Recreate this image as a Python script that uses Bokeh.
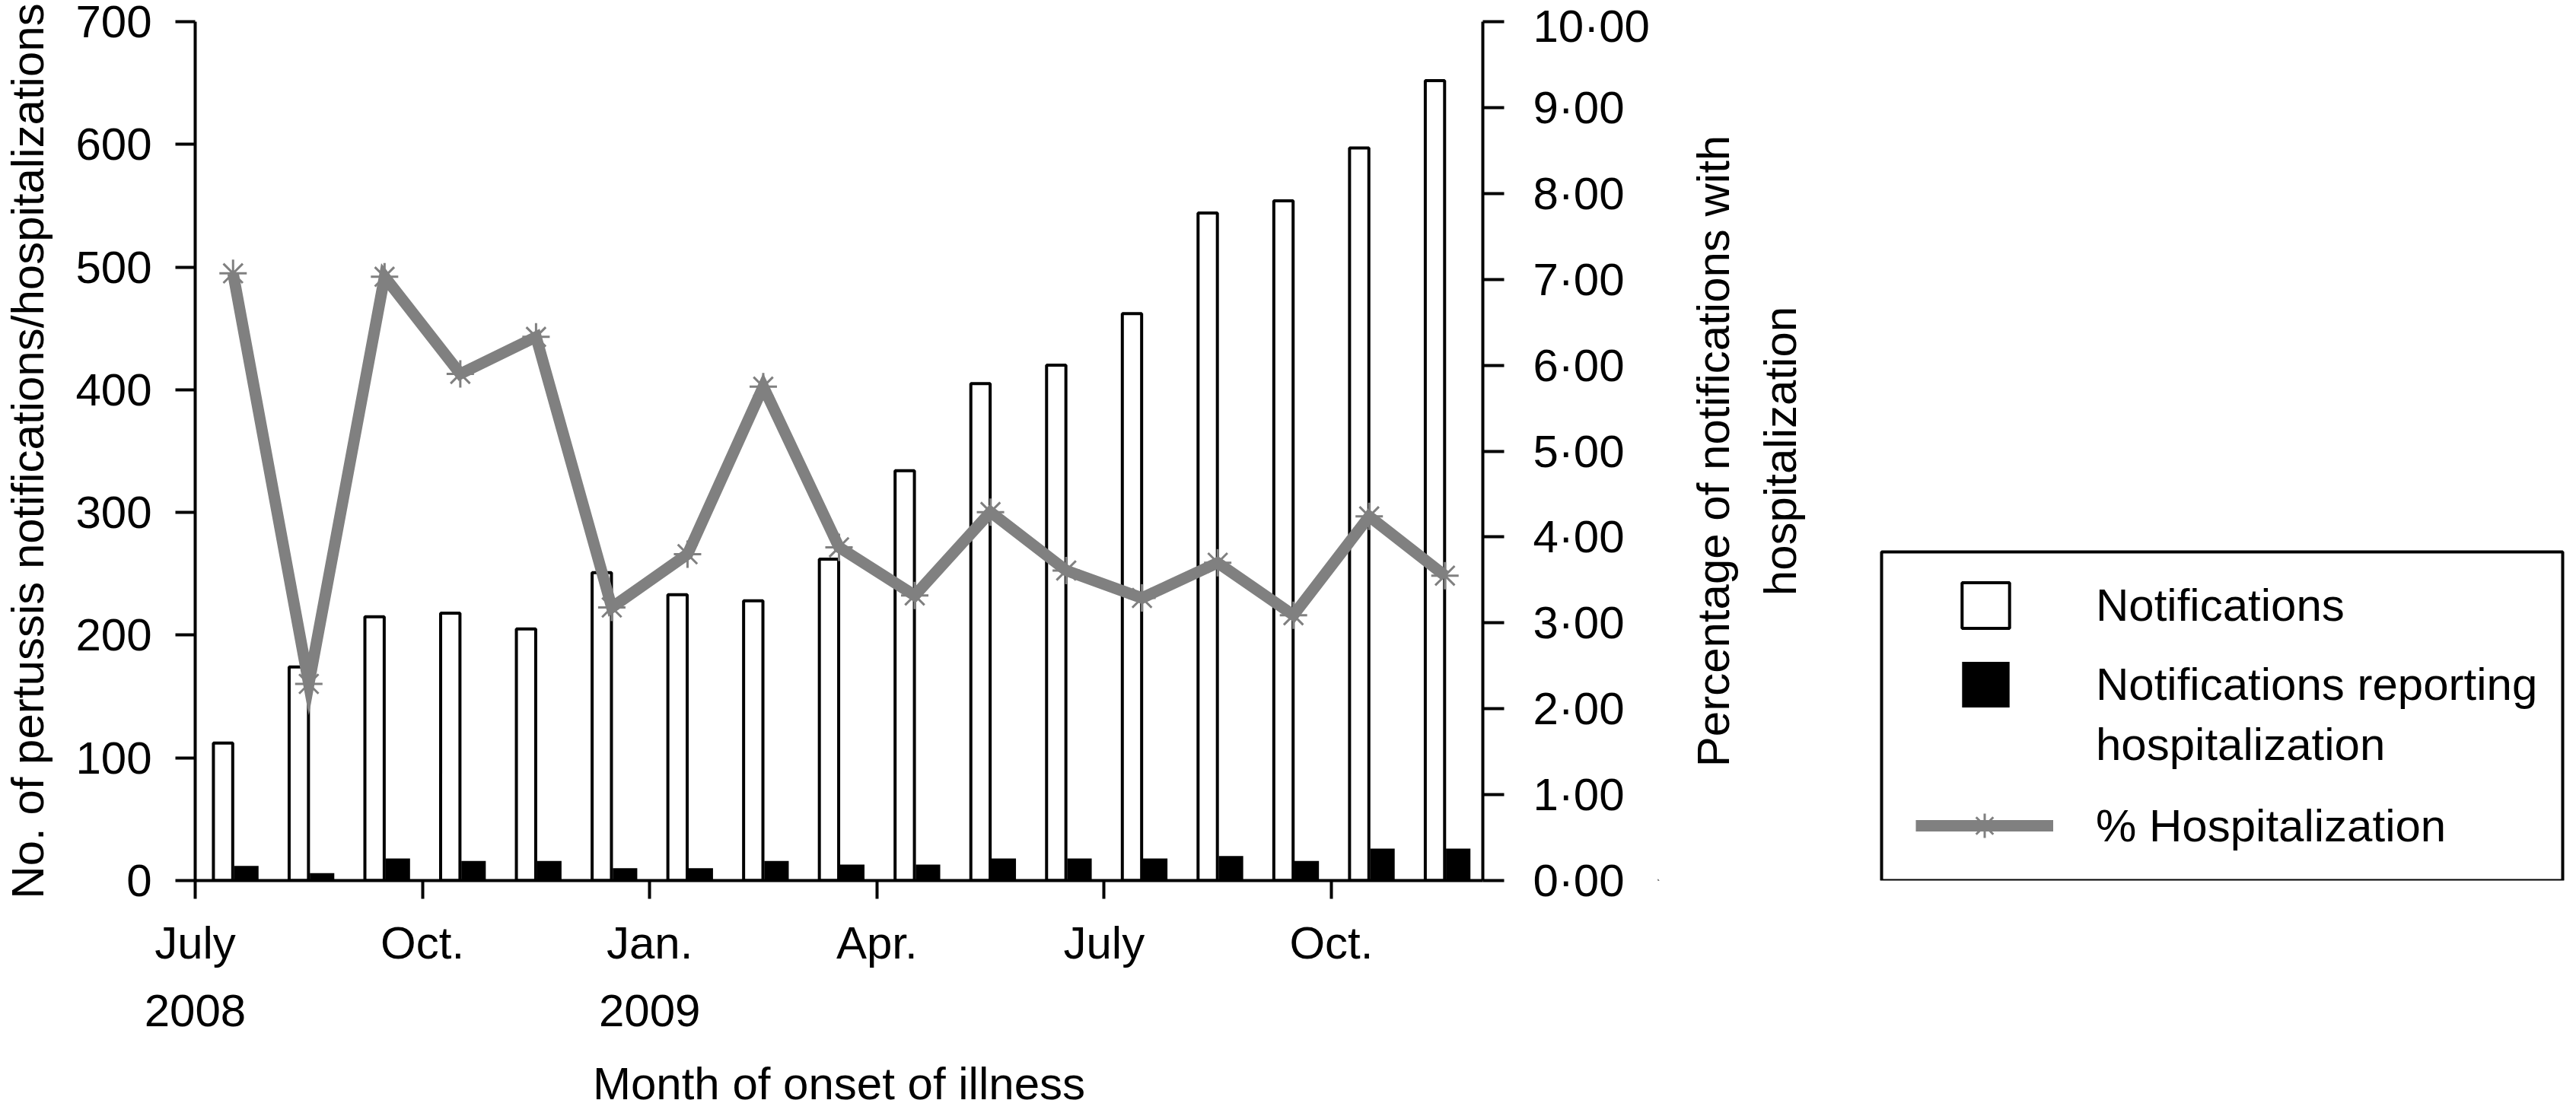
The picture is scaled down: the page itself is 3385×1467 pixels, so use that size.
import numpy as np
from bokeh.plotting import figure
from bokeh.layouts import row
from bokeh.models import (Range1d, LinearAxis, FixedTicker, Legend, LegendItem,
                          BoxAnnotation, ColumnDataSource, Label)
from bokeh.embed import file_html
from bokeh.resources import INLINE

# ---------------- data ----------------
months = ["Jul 2008", "Aug 2008", "Sep 2008", "Oct 2008", "Nov 2008", "Dec 2008",
          "Jan 2009", "Feb 2009", "Mar 2009", "Apr 2009", "May 2009", "Jun 2009",
          "Jul 2009", "Aug 2009", "Sep 2009", "Oct 2009", "Nov 2009"]
notifications = [112, 174, 215, 218, 205, 251, 233, 228, 262, 334, 405, 420,
                 462, 544, 554, 597, 652]
hospitalizations = [12, 6, 18, 16, 16, 10, 10, 16, 13, 13, 18, 18,
                    18, 20, 16, 26, 26]
pct_hospitalization = [7.07, 2.29, 7.03, 5.90, 6.33, 3.18, 3.80, 5.75, 3.88, 3.32,
                       4.29, 3.61, 3.29, 3.70, 3.09, 4.24, 3.55]

x_tick_positions = [0, 3, 6, 9, 12, 15]
x_tick_labels = ["July\n2008", "Oct.", "Jan.\n2009", "Apr.", "July", "Oct."]
count_ticks = [0, 100, 200, 300, 400, 500, 600, 700]
pct_ticks = [0, 1, 2, 3, 4, 5, 6, 7, 8, 9, 10]
pct_tick_labels = ["0·00", "1·00", "2·00", "3·00", "4·00", "5·00",
                   "6·00", "7·00", "8·00", "9·00", "10·00"]

FONT = "Liberation Sans"
GREY = "#808080"

idx = np.arange(len(months))
src = ColumnDataSource(dict(
    month=months,
    x_notif=idx + 0.368,
    x_hosp=idx + 0.675,
    x_mid=idx + 0.5,
    notifications=notifications,
    hospitalizations=hospitalizations,
    pct=pct_hospitalization,
))

# ---------------- main chart ----------------
BORDER_L, FRAME_W, BORDER_R = 254, 1692, 230
BORDER_T, FRAME_H = 28, 1129
TOTAL_H = 1451
BORDER_B = TOTAL_H - BORDER_T - FRAME_H

p = figure(frame_width=FRAME_W, frame_height=FRAME_H,
           x_range=Range1d(0, 17), y_range=Range1d(0, 700),
           output_backend="svg", toolbar_location=None,
           min_border_left=BORDER_L, min_border_top=BORDER_T,
           min_border_right=BORDER_R, min_border_bottom=BORDER_B)
p.extra_y_ranges = {"pct": Range1d(0, 10)}
p.xgrid.visible = False
p.ygrid.visible = False
p.outline_line_color = None


def style_axis(ax, tick_out, standoff):
    ax.axis_line_width = 4
    ax.axis_line_color = "black"
    ax.major_tick_line_width = 4
    ax.major_tick_line_color = "black"
    ax.major_tick_out = tick_out
    ax.major_tick_in = 0
    ax.minor_tick_out = 0
    ax.minor_tick_in = 0
    ax.major_label_text_font = FONT
    ax.major_label_text_font_size = "60px"
    ax.major_label_text_color = "black"
    ax.major_label_standoff = standoff
    ax.axis_label_text_font = FONT
    ax.axis_label_text_font_size = "60px"
    ax.axis_label_text_font_style = "normal"
    ax.axis_label_text_color = "black"


xax = p.xaxis[0]
xax.ticker = FixedTicker(ticks=x_tick_positions)
xax.major_label_overrides = dict(zip(x_tick_positions, x_tick_labels))
xax.axis_label = "Month of onset of illness"
style_axis(xax, 24, 24)
xax.major_label_text_line_height = 1.33
xax.axis_label_standoff = 26

yax = p.yaxis[0]
yax.ticker = FixedTicker(ticks=count_ticks)
yax.axis_label = "No. of pertussis notifications/hospitalizations"
style_axis(yax, 26, 31)
yax.axis_label_standoff = 26

rax = LinearAxis(y_range_name="pct", ticker=FixedTicker(ticks=pct_ticks),
                 major_label_overrides=dict(zip(pct_ticks, pct_tick_labels)))
style_axis(rax, 28, 38)
p.add_layout(rax, "right")

r_notif = p.vbar(x="x_notif", top="notifications", width=0.255, source=src,
                 fill_color="white", line_color="black", line_width=4)
r_hosp = p.vbar(x="x_hosp", top="hospitalizations", width=0.323, source=src,
                fill_color="black", line_color=None)
r_line = p.line(x="x_mid", y="pct", source=src, y_range_name="pct",
                line_color=GREY, line_width=15, line_join="miter")
r_mark = p.scatter(x="x_mid", y="pct", source=src, y_range_name="pct",
                   marker="asterisk", size=36, line_color=GREY, line_width=3)

# ---------------- side panel: right-axis title and legend ----------------
main_w = BORDER_L + FRAME_W + BORDER_R
side_w = 3369 - main_w
q = figure(frame_width=side_w, frame_height=FRAME_H,
           x_range=Range1d(0, 1), y_range=Range1d(0, 1),
           output_backend="svg", toolbar_location=None,
           x_axis_location=None, y_axis_location=None,
           min_border_left=0, min_border_right=0,
           min_border_top=BORDER_T, min_border_bottom=BORDER_B,
           outline_line_color=None)
q.xgrid.visible = False
q.ygrid.visible = False

# vertical title for the right-hand axis (reads bottom-to-top)
q.add_layout(Label(x=117, y=FRAME_H / 2, x_units="screen", y_units="screen",
                   text="Percentage of notifications with\nhospitalization",
                   angle=np.pi / 2, text_align="center", text_baseline="middle",
                   text_font=FONT, text_font_size="60px", text_color="black",
                   text_line_height=1.3))

# legend swatch renderers (their single point lies outside the visible range)
off = ColumnDataSource(dict(x=[-5.0], y=[-5.0]))
k_notif = q.vbar(x="x", top="y", width=0.1, source=off,
                 fill_color="white", line_color="black", line_width=4)
k_hosp = q.vbar(x="x", top="y", width=0.1, source=off,
                fill_color="black", line_color=None)
k_blank = q.scatter(x="x", y="y", source=off, size=1,
                    fill_alpha=0, line_alpha=0)
k_line = q.line(x="x", y="y", source=off, line_color=GREY, line_width=15)
k_mark = q.scatter(x="x", y="y", source=off, marker="asterisk",
                   line_color=GREY, line_width=3)

leg_common = dict(padding=0, margin=0, border_line_color=None,
                  background_fill_alpha=0, label_text_font=FONT,
                  label_text_font_size="60px", label_text_color="black",
                  spacing=0)

q.add_layout(Legend(items=[LegendItem(label="Notifications", renderers=[k_notif])],
                    location=(392, 324), glyph_width=78, glyph_height=75,
                    label_standoff=106, **leg_common))
q.add_layout(Legend(items=[LegendItem(label="Notifications reporting", renderers=[k_hosp])],
                    location=(392, 220), glyph_width=78, glyph_height=75,
                    label_standoff=106, **leg_common))
q.add_layout(Legend(items=[LegendItem(label="hospitalization", renderers=[k_blank])],
                    location=(392, 141), glyph_width=78, glyph_height=75,
                    label_standoff=106, **leg_common))
q.add_layout(Legend(items=[LegendItem(label="% Hospitalization",
                                      renderers=[k_line, k_mark])],
                    location=(339, 32), glyph_width=181, glyph_height=80,
                    label_standoff=56, **leg_common))

q.add_layout(BoxAnnotation(left=294, right=side_w - 4, bottom=0, top=432,
                           left_units="screen", right_units="screen",
                           top_units="screen", bottom_units="screen",
                           fill_color=None, fill_alpha=0,
                           line_color="black", line_alpha=1.0, line_width=4))

layout = row(p, q, spacing=0)
open("out.html", "w").write(file_html(layout, INLINE))
